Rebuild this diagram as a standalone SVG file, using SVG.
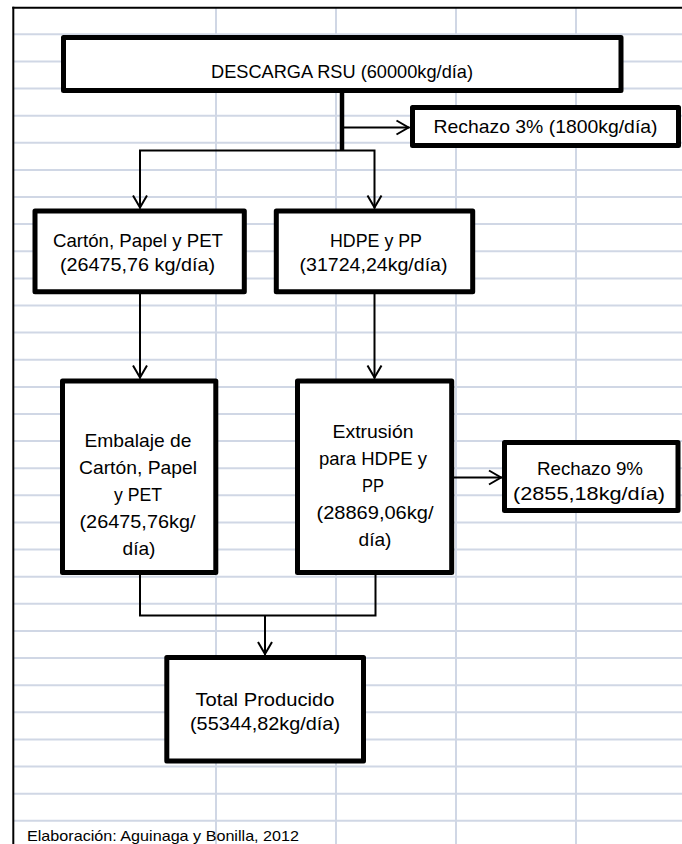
<svg xmlns="http://www.w3.org/2000/svg" width="682" height="844" viewBox="0 0 682 844">
<style>
.grid line{stroke:#d0d7e5;stroke-width:2}
.box{fill:#fff;stroke:#000;stroke-width:5;stroke-linejoin:round}
.t{font-family:"Liberation Sans",Arial,sans-serif;font-size:19px;fill:#000;text-anchor:middle}
.c{stroke:#000;stroke-width:2;fill:none}
</style>
<defs>
<marker id="arr" markerUnits="userSpaceOnUse" markerWidth="18" markerHeight="18" viewBox="-15 -9 18 18" refX="0" refY="0" orient="auto">
<path d="M-13,-7 L-1,0 L-13,7" fill="none" stroke="#000" stroke-width="2"/>
</marker>
</defs>
<rect width="682" height="844" fill="#fff"/>
<g class="grid">
<line x1="14" y1="34.3" x2="682" y2="34.3"/><line x1="14" y1="61.4" x2="682" y2="61.4"/><line x1="14" y1="88.5" x2="682" y2="88.5"/><line x1="14" y1="115.7" x2="682" y2="115.7"/><line x1="14" y1="142.8" x2="682" y2="142.8"/><line x1="14" y1="169.9" x2="682" y2="169.9"/><line x1="14" y1="197" x2="682" y2="197"/><line x1="14" y1="224.1" x2="682" y2="224.1"/><line x1="14" y1="251.3" x2="682" y2="251.3"/><line x1="14" y1="278.4" x2="682" y2="278.4"/><line x1="14" y1="305.5" x2="682" y2="305.5"/><line x1="14" y1="332.6" x2="682" y2="332.6"/><line x1="14" y1="359.7" x2="682" y2="359.7"/><line x1="14" y1="386.9" x2="682" y2="386.9"/><line x1="14" y1="414" x2="682" y2="414"/><line x1="14" y1="441.1" x2="682" y2="441.1"/><line x1="14" y1="468.2" x2="682" y2="468.2"/><line x1="14" y1="495.3" x2="682" y2="495.3"/><line x1="14" y1="522.5" x2="682" y2="522.5"/><line x1="14" y1="549.6" x2="682" y2="549.6"/><line x1="14" y1="576.7" x2="682" y2="576.7"/><line x1="14" y1="603.8" x2="682" y2="603.8"/><line x1="14" y1="630.9" x2="682" y2="630.9"/><line x1="14" y1="658.1" x2="682" y2="658.1"/><line x1="14" y1="685.2" x2="682" y2="685.2"/><line x1="14" y1="712.3" x2="682" y2="712.3"/><line x1="14" y1="739.4" x2="682" y2="739.4"/><line x1="14" y1="766.5" x2="682" y2="766.5"/><line x1="14" y1="793.7" x2="682" y2="793.7"/><line x1="14" y1="820.8" x2="682" y2="820.8"/>
<line x1="216" y1="8" x2="216" y2="844"/><line x1="336" y1="8" x2="336" y2="844"/><line x1="456" y1="8" x2="456" y2="844"/><line x1="576" y1="8" x2="576" y2="844"/>
</g>
<g id="frame" stroke="#000" stroke-width="2">
<line x1="12.3" y1="7.7" x2="682" y2="7.7"/>
<line x1="13.3" y1="6.7" x2="13.3" y2="844"/>
</g>
<g id="connectors">
<line x1="342" y1="92" x2="342" y2="151" stroke="#000" stroke-width="4.5"/>
<path class="c" d="M344,127.5 H409.5" marker-end="url(#arr)"/>
<path class="c" d="M342,150.5 H140 V208.5" marker-end="url(#arr)"/>
<path class="c" d="M342,150.5 H374.5 V208.5" marker-end="url(#arr)"/>
<path class="c" d="M140,294 V378.5" marker-end="url(#arr)"/>
<path class="c" d="M374.5,294 V378.5" marker-end="url(#arr)"/>
<path class="c" d="M454,477.5 H502" marker-end="url(#arr)"/>
<path class="c" d="M140,575 V615.5 H375.5 V575"/>
<path class="c" d="M265,615.5 V655" marker-end="url(#arr)"/>
</g>
<g id="n-descarga">
<rect class="box" x="63.5" y="37.5" width="557.5" height="53"/>
<text class="t" x="342" y="77.5" textLength="262" lengthAdjust="spacingAndGlyphs">DESCARGA RSU (60000kg/día)</text>
</g>
<g id="n-rechazo3">
<rect class="box" x="412.5" y="107.5" width="266" height="38"/>
<text class="t" x="545.5" y="133" textLength="224" lengthAdjust="spacingAndGlyphs">Rechazo 3% (1800kg/día)</text>
</g>
<g id="n-carton">
<rect class="box" x="35" y="211" width="209.3" height="80.7"/>
<text class="t" x="138" y="247" textLength="170" lengthAdjust="spacingAndGlyphs">Cartón, Papel y PET</text>
<text class="t" x="137.5" y="271" textLength="155" lengthAdjust="spacingAndGlyphs">(26475,76 kg/día)</text>
</g>
<g id="n-hdpe">
<rect class="box" x="276.3" y="211" width="196.4" height="80.7"/>
<text class="t" x="376" y="247" textLength="92" lengthAdjust="spacingAndGlyphs">HDPE y PP</text>
<text class="t" x="373.5" y="271" textLength="148" lengthAdjust="spacingAndGlyphs">(31724,24kg/día)</text>
</g>
<g id="n-embalaje">
<rect class="box" x="62.5" y="381" width="153.3" height="191.5"/>
<text class="t" x="138" y="447" textLength="107" lengthAdjust="spacingAndGlyphs">Embalaje de</text>
<text class="t" x="138" y="474" textLength="118" lengthAdjust="spacingAndGlyphs">Cartón, Papel</text>
<text class="t" x="138" y="501" textLength="48" lengthAdjust="spacingAndGlyphs">y PET</text>
<text class="t" x="137.5" y="528" textLength="116" lengthAdjust="spacingAndGlyphs">(26475,76kg/</text>
<text class="t" x="139" y="555" textLength="33" lengthAdjust="spacingAndGlyphs">día)</text>
</g>
<g id="n-extrusion">
<rect class="box" x="297.5" y="381" width="154.2" height="191.5"/>
<text class="t" x="373" y="438" textLength="81" lengthAdjust="spacingAndGlyphs">Extrusión</text>
<text class="t" x="373" y="465" textLength="108" lengthAdjust="spacingAndGlyphs">para HDPE y</text>
<text class="t" x="373" y="492" textLength="22" lengthAdjust="spacingAndGlyphs">PP</text>
<text class="t" x="375" y="519" textLength="117" lengthAdjust="spacingAndGlyphs">(28869,06kg/</text>
<text class="t" x="375" y="546" textLength="33" lengthAdjust="spacingAndGlyphs">día)</text>
</g>
<g id="n-rechazo9">
<rect class="box" x="504.5" y="442.5" width="173.5" height="68"/>
<text class="t" x="590" y="475" textLength="106" lengthAdjust="spacingAndGlyphs">Rechazo 9%</text>
<text class="t" x="589" y="500" textLength="152" lengthAdjust="spacingAndGlyphs">(2855,18kg/día)</text>
</g>
<g id="n-total">
<rect class="box" x="166.8" y="657.5" width="196.7" height="103.5"/>
<text class="t" x="265" y="706" textLength="139" lengthAdjust="spacingAndGlyphs">Total Producido</text>
<text class="t" x="265" y="730" textLength="150" lengthAdjust="spacingAndGlyphs">(55344,82kg/día)</text>
</g>
<text x="27" y="841" font-family="Liberation Sans,Arial,sans-serif" font-size="15" textLength="272" lengthAdjust="spacingAndGlyphs">Elaboración: Aguinaga y Bonilla, 2012</text>
</svg>
